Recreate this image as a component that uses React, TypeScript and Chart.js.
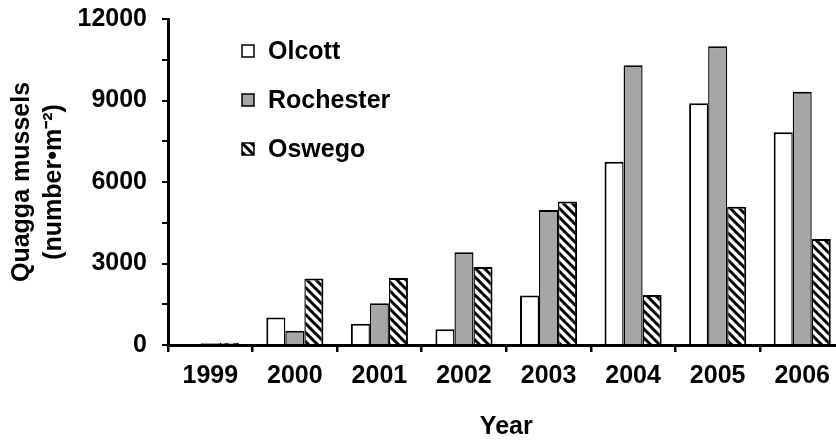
import React, { useEffect, useRef } from 'react';
import { Chart, registerables } from 'chart.js';

Chart.register(...registerables);

const years = ['1999', '2000', '2001', '2002', '2003', '2004', '2005', '2006'];
const olcott = [0, 1010, 780, 580, 1820, 6750, 8900, 7830];
const rochester = [60, 520, 1540, 3410, 4970, 10300, 11000, 9320];
const oswego = [80, 2450, 2470, 2870, 5280, 1840, 5090, 3900];
const seriesLabels = ['Olcott', 'Rochester', 'Oswego'];
const yMajorTicks = [0, 3000, 6000, 9000, 12000];
const xTitle = 'Year';
const yTitle = ['Quagga mussels', '(number\u2022m\u207B\u00B2)'];

const FONT = '"Liberation Sans", Arial, Helvetica, sans-serif';
const FS = 25;

function makeHatch(): CanvasPattern | string {
  const s = 9;
  const c = document.createElement('canvas');
  c.width = s;
  c.height = s;
  const g = c.getContext('2d');
  if (!g) return '#888';
  g.fillStyle = '#fff';
  g.fillRect(0, 0, s, s);
  g.strokeStyle = '#000';
  g.lineWidth = 3;
  g.beginPath();
  g.moveTo(-s, -s);
  g.lineTo(2 * s, 2 * s);
  g.moveTo(-s, 0);
  g.lineTo(s, 2 * s);
  g.moveTo(0, -s);
  g.lineTo(2 * s, s);
  g.stroke();
  return g.createPattern(c, 'repeat') || '#888';
}

const insideLegend = {
  id: 'insideLegend',
  afterDraw(chart: any) {
    const ctx = chart.ctx as CanvasRenderingContext2D;
    const { left, top } = chart.chartArea;
    chart.data.datasets.forEach((ds: any, i: number) => {
      const cy = top + 32 + i * 49;
      const bx = left + 74;
      ctx.save();
      ctx.fillStyle = ds.backgroundColor;
      ctx.fillRect(bx, cy - 6, 12, 12);
      ctx.strokeStyle = '#000';
      ctx.lineWidth = 1.5;
      ctx.strokeRect(bx, cy - 6, 12, 12);
      ctx.fillStyle = '#000';
      ctx.font = `bold ${FS}px ${FONT}`;
      ctx.textBaseline = 'middle';
      ctx.textAlign = 'left';
      ctx.fillText(ds.label, bx + 26, cy + 1);
      ctx.restore();
    });
  },
};

export default function App() {
  const ref = useRef<HTMLCanvasElement>(null);

  useEffect(() => {
    if (!ref.current) return;
    Chart.defaults.font.family = FONT;
    const hatch = makeHatch();
    const common = {
      borderColor: '#000',
      borderSkipped: 'bottom',
      inflateAmount: 0,
      categoryPercentage: 0.675,
      barPercentage: 1,
    };
    const chart = new Chart(ref.current, {
      type: 'bar',
      data: {
        labels: years,
        datasets: [
          {
            ...common,
            label: seriesLabels[0],
            data: olcott,
            backgroundColor: '#ffffff',
            borderWidth: { top: 2, left: 2, right: 1.4, bottom: 0 },
          },
          {
            ...common,
            label: seriesLabels[1],
            data: rochester,
            backgroundColor: '#a6a6a6',
            borderWidth: { top: 2, left: 1.4, right: 1.4, bottom: 0 },
          },
          {
            ...common,
            label: seriesLabels[2],
            data: oswego,
            backgroundColor: hatch as any,
            borderWidth: { top: 2, left: 1.4, right: 2, bottom: 0 },
          },
        ],
      },
      options: {
        responsive: false,
        animation: false,
        layout: { padding: { top: 19, right: 3.5, bottom: 0, left: 0 } },
        plugins: { legend: { display: false }, tooltip: { enabled: false } },
        scales: {
          x: {
            grid: {
              display: true,
              drawOnChartArea: false,
              drawTicks: true,
              tickLength: 7,
              color: '#000',
              tickColor: '#000',
              lineWidth: 2.5,
              tickWidth: 2.5,
              offset: true,
            },
            border: { display: true, color: '#000', width: 3 },
            ticks: {
              color: '#000',
              font: { size: FS, weight: 'bold' },
              padding: 9,
              maxRotation: 0,
              autoSkip: false,
            },
            title: {
              display: true,
              text: xTitle,
              color: '#000',
              font: { size: FS, weight: 'bold', lineHeight: 1.0 },
              padding: 0,
            },
            afterFit: (s: any) => {
              s.height = 95;
              s.paddingLeft = 0;
              s.paddingRight = 0;
            },
          },
          y: {
            min: 0,
            max: 12000,
            grid: {
              drawOnChartArea: false,
              tickLength: 6,
              color: '#000',
              tickColor: '#000',
              lineWidth: 2,
              tickWidth: 2,
            },
            border: { display: true, color: '#000', width: 3 },
            ticks: {
              stepSize: 1500,
              color: '#000',
              font: { size: FS, weight: 'bold' },
              padding: 15,
              callback: (v: any) => (yMajorTicks.includes(Number(v)) ? String(v) : ''),
            },
            title: {
              display: true,
              text: yTitle,
              color: '#000',
              font: { size: FS, weight: 'bold', lineHeight: 1.28 },
              padding: { top: 6, bottom: 0 },
            },
            afterFit: (s: any) => {
              s.width = 168;
              s.paddingTop = 0;
              s.paddingBottom = 0;
            },
          },
        },
      },
      plugins: [insideLegend],
    } as any);
    return () => chart.destroy();
  }, []);

  return (
    <div
      style={{
        position: 'fixed',
        left: 0,
        top: 0,
        width: 836,
        height: 440,
        overflow: 'hidden',
        background: '#fff',
      }}
    >
      <canvas ref={ref} width={848} height={440} style={{ display: 'block', width: 848, height: 440 }} />
    </div>
  );
}
